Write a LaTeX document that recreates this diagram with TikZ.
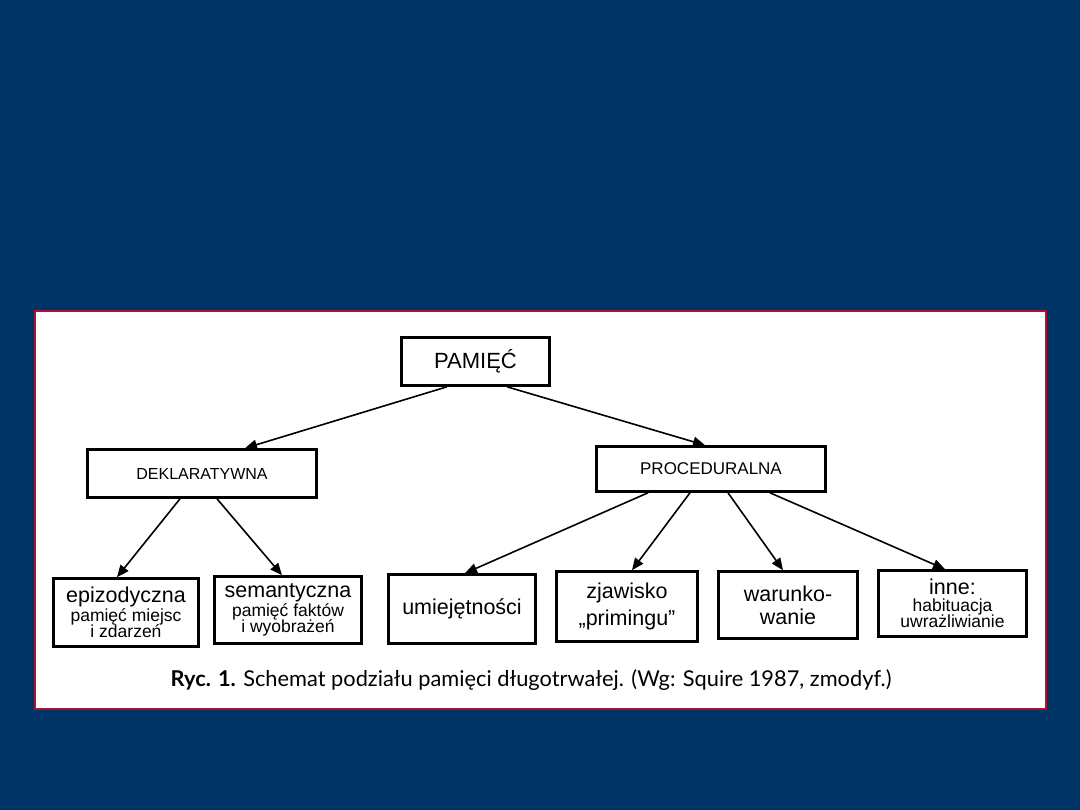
\documentclass[tikz,border=0pt]{standalone}
\usepackage{fontspec}
\setmainfont{Liberation Sans}
\newfontfamily\capfont{Lato}
\usepackage{xcolor}
\usetikzlibrary{arrows.meta}
\definecolor{navy}{RGB}{0,51,102}
\definecolor{frame}{RGB}{176,16,48}
\newcommand{\fbig}{\fontsize{21.5}{22}\selectfont}
\newcommand{\fsmall}{\fontsize{17.5}{17}\selectfont}

\begin{document}
\begin{tikzpicture}[
    x=1pt, y=-1pt,
    box/.style n args={2}{rectangle, draw=black, line width=2.6pt, fill=white, inner sep=0pt, align=center, minimum width=#1pt, minimum height=#2pt},
    arrow/.style={-{Triangle[length=12pt,width=10pt]}, line width=1.6pt},
]
% background and white panel
\fill[navy] (0,0) rectangle (1080,810);
\useasboundingbox (0,0) rectangle (1080,810);
\draw[frame, fill=white, line width=2pt] (35,311) rectangle (1046,709);

\node[box={148}{48}, font=\fontsize{22}{22}\selectfont] (pam) at (475.5,361.5) {PAMIĘĆ};
\node[box={229}{48}, font=\fontsize{16}{16}\selectfont] (dek) at (202,473.5) {DEKLARATYWNA};
\node[box={229}{45}, font=\fontsize{17}{17}\selectfont] (proc) at (711,469) {PROCEDURALNA};

\node[box={145}{68}] (epi) at (126,612.5) {\fbig epizodyczna\\[0pt]\fsmall pamięć miejsc\\[-1pt]\fsmall i zdarzeń};
\node[box={147}{67}] (sem) at (288,610) {\fbig semantyczna\\[0pt]\fsmall pamięć faktów\\[-1pt]\fsmall i wyobrażeń};
\node[box={147}{69}, font=\fbig] (umi) at (462,609) {umiejętności};
\node[box={141}{70}] (zja) at (627,606.5) {\fbig zjawisko\\[6pt]\fbig „primingu”};
\node[box={139}{67}] (war) at (788,605) {\fbig warunko-\\[6pt]\fbig wanie};
\node[box={148}{66}] (inn) at (952.5,603.5) {\fbig inne:\\[3pt]\fsmall habituacja\\[-1pt]\fsmall uwrażliwianie};

\draw[arrow] ([xshift=-28.5pt]pam.south) -- ([xshift=43pt]dek.north);
\draw[arrow] ([xshift=31.5pt]pam.south) -- ([xshift=-6pt]proc.north);
\draw[arrow] ([xshift=-22pt]dek.south) -- ([xshift=-9pt]epi.north);
\draw[arrow] ([xshift=15pt]dek.south) -- ([xshift=-6pt]sem.north);
\draw[arrow] ([xshift=-63pt]proc.south) -- ([xshift=3pt]umi.north);
\draw[arrow] ([xshift=-21pt]proc.south) -- ([xshift=5pt]zja.north);
\draw[arrow] ([xshift=17pt]proc.south) -- ([xshift=-5pt]war.north);
\draw[arrow] ([xshift=59pt]proc.south) -- ([xshift=-7.5pt]inn.north);

\node[anchor=base, font=\capfont\fontsize{21.8}{22}\selectfont] (cap) at (531,686) {\textbf{Ryc. 1.} Schemat podziału pamięci długotrwałej. (Wg: Squire 1987, zmodyf.)};
\end{tikzpicture}
\end{document}
